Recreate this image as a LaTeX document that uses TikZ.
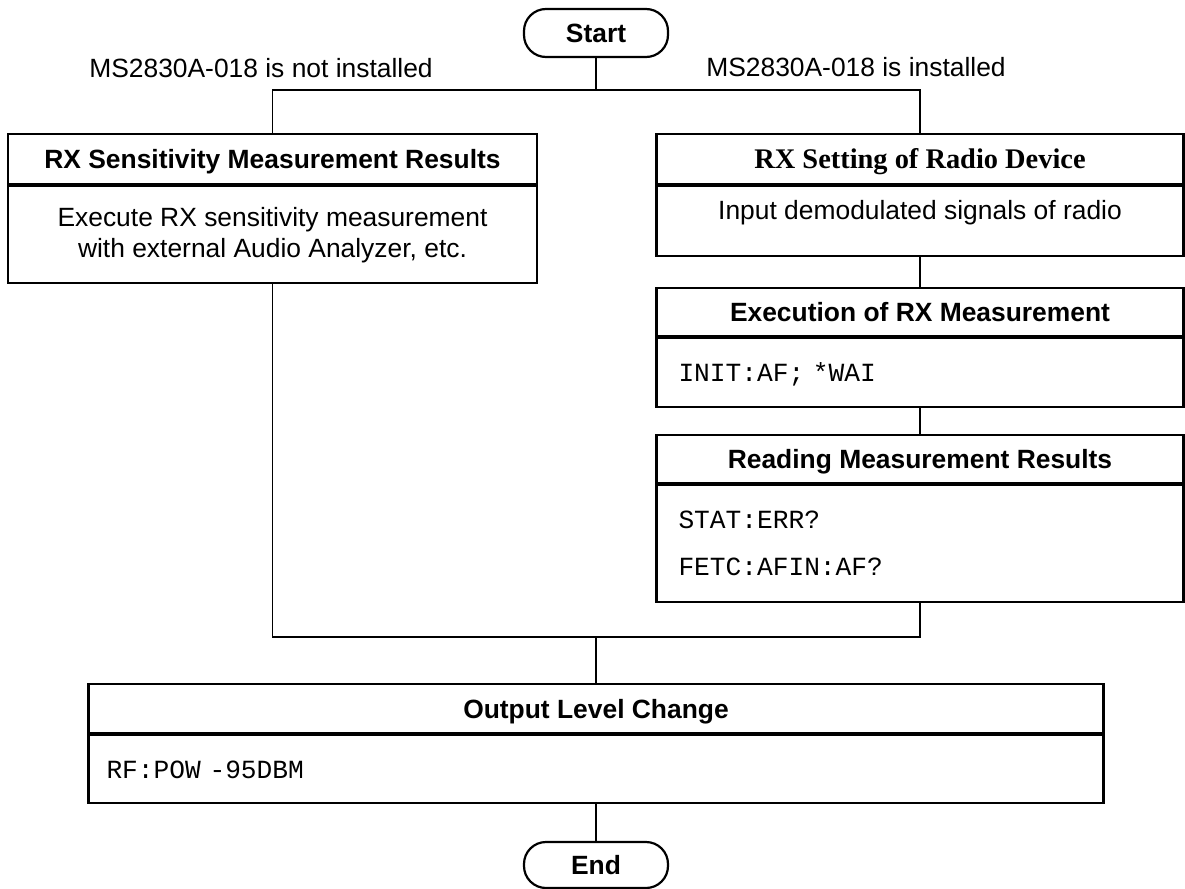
\documentclass[tikz,border=0pt]{standalone}
\usepackage{fontspec}
\setmainfont{Liberation Sans}
\newfontfamily\monofnt{Liberation Mono}
\newfontfamily\seriffnt{Liberation Serif}
\begin{document}
\begin{tikzpicture}[x=0.5pt,y=-0.5pt,
  box/.style={draw, line width=1.1pt, inner sep=0pt},
  head/.style={box, font=\bfseries\fontsize{13.2}{15.5}\selectfont, align=center, text height=9.5pt, text depth=0pt},
  bodytxt/.style={box, font=\fontsize{13.2}{15.5}\selectfont, align=center},
  codetxt/.style={box, font=\monofnt\fontsize{13.1}{23.5}\selectfont, align=left, inner xsep=11pt},
  term/.style={draw, line width=1.1pt, rounded corners=11pt, inner sep=0pt, minimum width=72pt, font=\bfseries\fontsize{13.2}{15.5}\selectfont, text height=9.5pt, text depth=0pt},
  lbl/.style={font=\fontsize{13.2}{15.5}\selectfont, inner sep=0pt},
  conn/.style={line width=0.8pt}]
\useasboundingbox (0,0) rectangle (1185,889);

% terminals
\node[term, minimum height=24pt] (start) at (596,33) {Start};
\node[term, minimum height=23pt] (end) at (596,865) {End};

% branch labels
\node[lbl] (lblno) at (261,68) {MS2830A-018 is not installed};
\node[lbl] (lblyes) at (856,67) {MS2830A-018 is installed};

% left branch
\node[head, anchor=north, minimum width=264.5pt, minimum height=25pt] (lhead) at (272.5,133) {RX Sensitivity Measurement Results};
\node[bodytxt, anchor=north, minimum width=264.5pt, minimum height=48.5pt] (lbody) at (lhead.south) {Execute RX sensitivity measurement\\with external Audio Analyzer, etc.};

% right branch
\node[head, anchor=north, minimum width=263.5pt, minimum height=25pt, font=\seriffnt\bfseries\fontsize{14.2}{16}\selectfont] (r1head) at (920,133) {RX Setting of Radio Device};
\node[box, anchor=north, minimum width=263.5pt, minimum height=35pt, font=\fontsize{13.2}{15.5}\selectfont, text height=9.5pt, text depth=11pt] (r1body) at (r1head.south) {Input demodulated signals of radio};

\node[head, anchor=north, minimum width=263.5pt, minimum height=24pt] (r2head) at (920,287) {Execution of RX Measurement};
\node[codetxt, anchor=north, minimum height=34.5pt, text width=241.5pt, text height=9pt, text depth=0pt] (r2body) at (r2head.south) {INIT:AF; *WAI};

\node[head, anchor=north, minimum width=263.5pt, minimum height=24pt] (r3head) at (920,434) {Reading Measurement Results};
\node[codetxt, anchor=north, minimum height=58.5pt, text width=241.5pt] (r3body) at (r3head.south) {STAT:ERR?\\FETC:AFIN:AF?};

% output level change
\node[head, anchor=north, minimum width=507.5pt, minimum height=24.5pt] (ohead) at (596,683) {Output Level Change};
\node[codetxt, anchor=north, minimum height=34pt, inner xsep=9pt, text width=489.5pt, text height=9pt, text depth=0pt] (obody) at (ohead.south) {RF:POW -95DBM};

% connectors
\coordinate (split) at (596,90);
\coordinate (merge) at (596,637);
\draw[conn] (start.south) -- (split);
\draw[conn] (lhead.north) |- (split) -| (r1head.north);
\draw[conn] (r1body.south) -- (r2head.north);
\draw[conn] (r2body.south) -- (r3head.north);
\draw[conn] (lbody.south) |- (merge) -| (r3body.south);
\draw[conn] (merge) -- (ohead.north);
\draw[conn] (obody.south) -- (end.north);
\end{tikzpicture}
\end{document}
